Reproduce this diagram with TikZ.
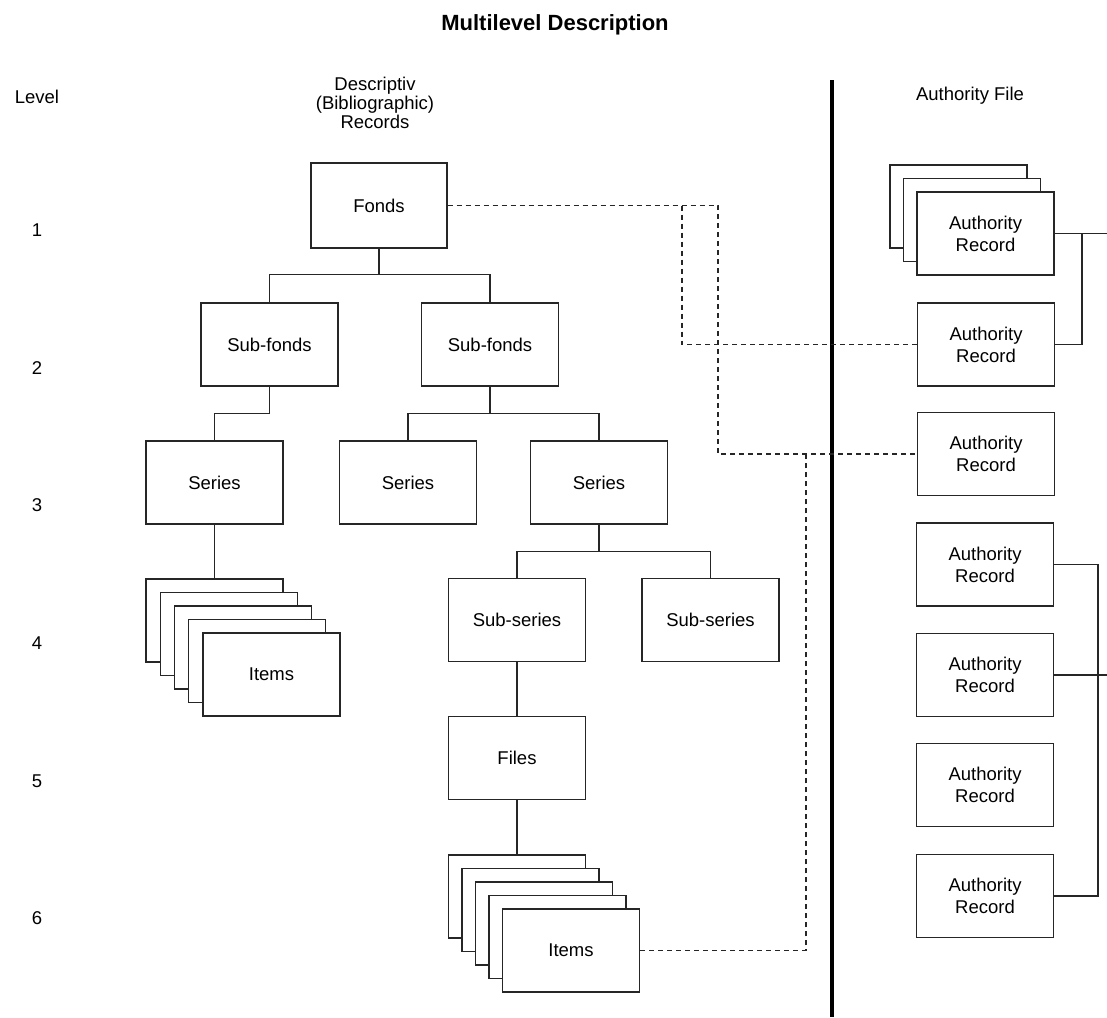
\documentclass[tikz,border=0pt]{standalone}
\usepackage{fontspec}
\setmainfont{Liberation Sans}
\begin{document}
\begin{tikzpicture}[x=1pt,y=-1pt,
  lc/.style={draw=black!85, line width=1.4pt},
  box/.style={lc, fill=white, minimum width=137pt, minimum height=83pt, inner sep=0pt, align=center, font=\fontsize{18.5}{22}\selectfont},
  lbl/.style={inner sep=0pt, align=center, font=\fontsize{18.5}{19}\selectfont},
  conn/.style={lc},
  dsh/.style={lc, dash pattern=on 5pt off 4pt},
]
\useasboundingbox (0,0) rectangle (1107,1017);

% headings
\node[inner sep=0pt, font=\fontsize{22}{24}\selectfont\bfseries] (title) at (555,25) {Multilevel Description};
\node[lbl] (lvl) at (37,97) {Level};
\node[lbl] (l1) at (37,230) {1};
\node[lbl] (l2) at (37,368) {2};
\node[lbl] (l3) at (37,505) {3};
\node[lbl] (l4) at (37,643) {4};
\node[lbl] (l5) at (37,781) {5};
\node[lbl] (l6) at (37,918) {6};
\node[lbl] (desc) at (375,103) {Descriptiv\\(Bibliographic)\\Records};
\node[lbl] (auth) at (970,96) {Authority File};

% thick divider
\coordinate (t1) at (832,80);
\coordinate (t2) at (832,1017);
\draw[line width=4pt] (t1) -- (t2);

% tree
\node[box, minimum width=136pt, minimum height=85pt] (fonds) at (379,205.5) {Fonds};
\node[box] (sf1) at (269.5,344.5) {Sub-fonds};
\node[box] (sf2) at (490,344.5) {Sub-fonds};
\node[box] (s1) at (214.5,482.5) {Series};
\node[box] (s2) at (408,482.5) {Series};
\node[box] (s3) at (599,482.5) {Series};
\node[box] (ss1) at (517,620) {Sub-series};
\node[box] (ss2) at (710.5,620) {Sub-series};
\node[box] (files) at (517,758) {Files};

% items stack A
\node[box] (ia0) at (214.5,620.5) {};
\node[box] (ia1) at (228.75,634) {};
\node[box] (ia2) at (243,647.5) {};
\node[box] (ia3) at (257.25,661) {};
\node[box] (ia4) at (271.5,674.5) {Items};

% items stack B
\node[box] (ib0) at (517,896.5) {};
\node[box] (ib1) at (530.5,910) {};
\node[box] (ib2) at (544,923.5) {};
\node[box] (ib3) at (557.5,937) {};
\node[box] (ib4) at (571,950.5) {Items};

% authority records
\node[box] (ara0) at (958.5,206.5) {};
\node[box] (ara1) at (972,220) {};
\node[box] (ara2) at (985.5,233.5) {Authority\\Record};
\node[box] (ar2) at (986,344.5) {Authority\\Record};
\node[box] (ar3) at (986,454) {Authority\\Record};
\node[box] (ar4) at (985,564.5) {Authority\\Record};
\node[box] (ar5) at (985,675) {Authority\\Record};
\node[box] (ar6) at (985,785) {Authority\\Record};
\node[box] (ar7) at (985,896) {Authority\\Record};

% tree connectors
\draw[conn] (fonds.south) -- ++(0,26) coordinate (b1);
\draw[conn] (sf1.north) |- (b1) -| (sf2.north);
\draw[conn] (sf1.south) -- ++(0,27) coordinate (b2) -| (s1.north);
\draw[conn] (sf2.south) -- ++(0,27) coordinate (b3);
\draw[conn] (s2.north) |- (b3) -| (s3.north);
\draw[conn] (s3.south) -- ++(0,27) coordinate (b4);
\draw[conn] (ss1.north) |- (b4) -| (ss2.north);
\draw[conn] (s1.south) -- (ia0.north);
\draw[conn] (ss1.south) -- (files.north);
\draw[conn] (files.south) -- (ib0.north);

% dashed links
\coordinate (d1) at (718,0);
\coordinate (d2) at (682,0);
\coordinate (d3) at (806,0);
\draw[dsh] (fonds.east) -| (d1 |- ar3.west) -- (ar3.west);
\draw[dsh] (fonds.east -| d2) |- (ar2.west);
\draw[dsh] (ib4.east) -| (d3 |- ar3.west);

% authority connectors
\coordinate (edge) at (1107,0);
\coordinate (v1) at (1082,0);
\coordinate (v2) at (1098,0);
\draw[conn] (ara2.east) -- (ara2.east -| edge);
\draw[conn] (ar2.east) -| (v1 |- ara2.east);
\draw[conn] (ar4.east) -| (v2 |- ar7.east) -- (ar7.east);
\draw[conn] (ar5.east) -- (ar5.east -| edge);
\end{tikzpicture}
\end{document}
